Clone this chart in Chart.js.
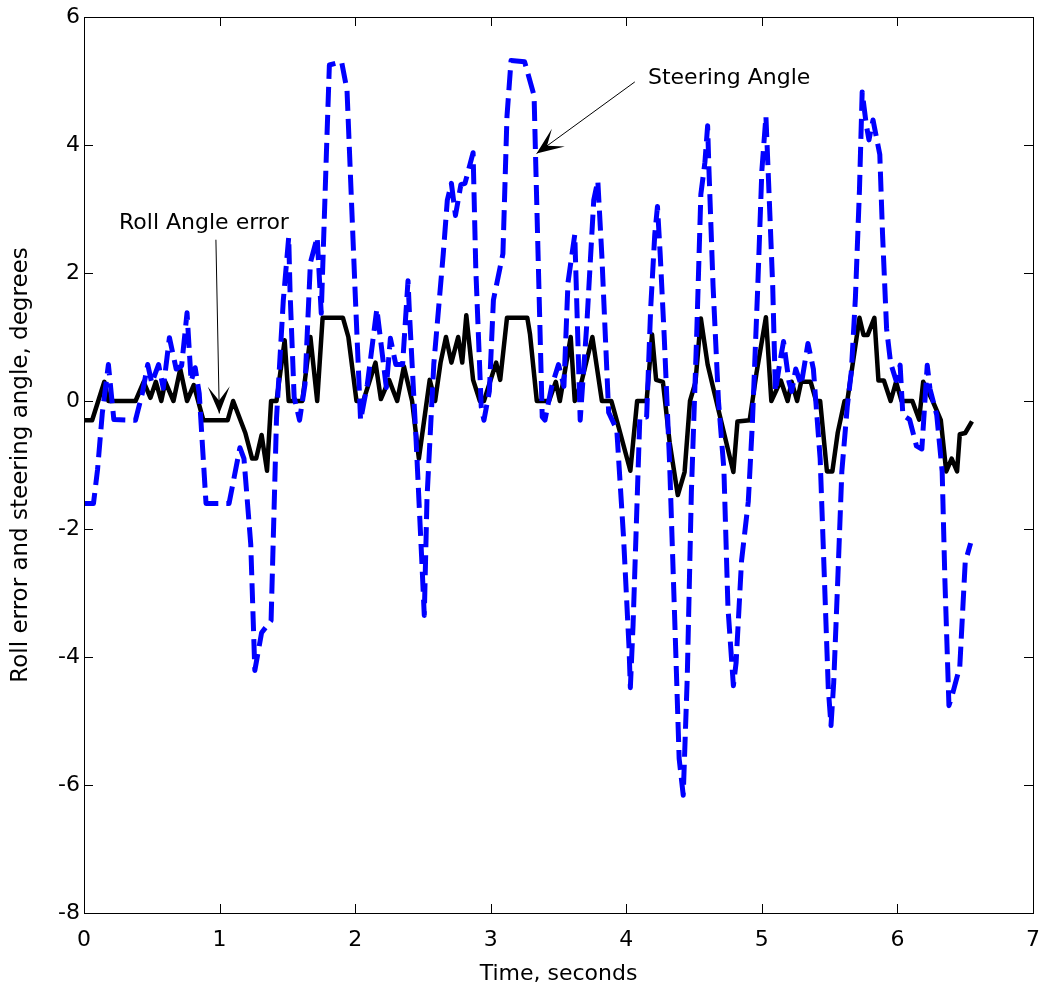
<!DOCTYPE html>
<html>
<head>
<meta charset="utf-8">
<title>Roll error and steering angle</title>
<script src="https://cdn.jsdelivr.net/npm/chart.js@4.4.1/dist/chart.umd.min.js"></script>
<style>
  html, body { margin: 0; padding: 0; background: #fff; }
  #chart { display: block; }
</style>
</head>
<body>
<canvas id="chart" width="1043" height="990"></canvas>
<script>
// ===== DATA =====
const rollTime = [
  0.00, 0.06, 0.15, 0.18, 0.38, 0.44, 0.49, 0.53, 0.57, 0.60, 0.66, 0.71, 0.76, 0.81, 0.88,
  1.06, 1.10, 1.19, 1.24, 1.27, 1.31, 1.35, 1.38, 1.42, 1.48, 1.51, 1.61, 1.67, 1.72, 1.76,
  1.91, 1.95, 2.01, 2.06, 2.15, 2.19, 2.25, 2.31, 2.36, 2.42, 2.47, 2.55, 2.59, 2.63, 2.67,
  2.71, 2.76, 2.79, 2.82, 2.87, 2.92, 2.95, 3.04, 3.07, 3.12, 3.27, 3.29, 3.34, 3.43, 3.48,
  3.51, 3.59, 3.62, 3.67, 3.75, 3.82, 3.89, 3.94, 4.03, 4.08, 4.15, 4.19, 4.22, 4.27, 4.32,
  4.38, 4.43, 4.47, 4.51, 4.55, 4.60, 4.68, 4.79, 4.82, 4.91, 4.96, 5.03, 5.07, 5.14, 5.19,
  5.22, 5.26, 5.29, 5.36, 5.40, 5.43, 5.48, 5.52, 5.56, 5.61, 5.63, 5.72, 5.75, 5.78, 5.83,
  5.86, 5.90, 5.95, 5.99, 6.03, 6.11, 6.16, 6.19, 6.26, 6.32, 6.36, 6.40, 6.44, 6.46, 6.50,
  6.55
];
const rollError = [
  -0.3, -0.3, 0.3, 0.0, 0.0, 0.3, 0.05, 0.3, 0.0, 0.3, 0.0, 0.5, 0.0, 0.25, -0.3,
  -0.3, 0.0, -0.5, -0.9, -0.9, -0.53, -1.09, 0.0, 0.0, 0.95, 0.0, 0.0, 1.0, 0.0, 1.3,
  1.3, 1.0, 0.0, 0.0, 0.6, 0.03, 0.33, 0.0, 0.54, 0.0, -0.9, 0.33, 0.0, 0.6, 1.0,
  0.6, 1.0, 0.6, 1.34, 0.33, 0.0, 0.0, 0.6, 0.33, 1.3, 1.3, 1.04, 0.0, 0.0, 0.3,
  0.0, 1.0, 0.0, 0.3, 1.0, 0.0, 0.0, -0.38, -1.09, 0.0, 0.0, 1.04, 0.33, 0.3, -0.65,
  -1.47, -1.11, 0.0, 0.29, 1.29, 0.57, -0.14, -1.11, -0.32, -0.3, 0.43, 1.31, 0.0, 0.32, 0.0,
  0.3, 0.0, 0.3, 0.3, 0.0, 0.0, -1.1, -1.1, -0.49, 0.0, 0.0, 1.3, 1.03, 1.03, 1.3,
  0.32, 0.32, 0.0, 0.3, 0.0, 0.0, -0.29, 0.3, 0.0, -0.3, -1.1, -0.9, -1.1, -0.52, -0.5,
  -0.32
];

const steerTime = [
  0.00, 0.07, 0.10, 0.135, 0.18, 0.22, 0.38, 0.43, 0.47, 0.50, 0.55, 0.585, 0.63, 0.68, 0.72,
  0.76, 0.79, 0.82, 0.85, 0.90, 1.07, 1.15, 1.18, 1.23, 1.26, 1.31, 1.38, 1.42, 1.47, 1.51,
  1.52, 1.55, 1.59, 1.63, 1.67, 1.72, 1.75, 1.79, 1.81, 1.90, 1.94, 2.00, 2.04, 2.09, 2.16,
  2.23, 2.26, 2.30, 2.35, 2.39, 2.40, 2.45, 2.49, 2.51, 2.53, 2.58, 2.65, 2.68, 2.71, 2.74,
  2.78, 2.81, 2.87, 2.89, 2.93, 2.95, 2.99, 3.02, 3.09, 3.12, 3.15, 3.25, 3.32, 3.33, 3.38,
  3.40, 3.45, 3.50, 3.54, 3.57, 3.62, 3.66, 3.71, 3.76, 3.79, 3.82, 3.87, 3.93, 3.98, 4.02,
  4.03, 4.05, 4.10, 4.15, 4.18, 4.21, 4.23, 4.25, 4.28, 4.32, 4.36, 4.39, 4.42, 4.45, 4.48,
  4.52, 4.55, 4.58, 4.60, 4.61, 4.64, 4.68, 4.72, 4.75, 4.79, 4.81, 4.85, 4.90, 4.93, 4.97,
  5.00, 5.03, 5.05, 5.08, 5.10, 5.13, 5.16, 5.20, 5.22, 5.25, 5.29, 5.34, 5.38, 5.43, 5.49,
  5.51, 5.53, 5.56, 5.59, 5.63, 5.66, 5.69, 5.72, 5.74, 5.77, 5.79, 5.82, 5.87, 5.89, 5.92,
  5.95, 5.99, 6.02, 6.04, 6.09, 6.14, 6.18, 6.22, 6.24, 6.29, 6.33, 6.35, 6.38, 6.41, 6.46,
  6.50, 6.54
];
const steerAngle = [
  -1.6, -1.6, -1.07, -0.19, 0.57, -0.29, -0.3, 0.12, 0.57, 0.28, 0.57, 0.2, 0.99, 0.5, 0.55,
  1.38, 0.31, 0.52, 0.12, -1.6, -1.6, -0.73, -0.9, -2.24, -4.21, -3.62, -3.43, -0.27, 1.57, 2.56,
  1.7, 0.06, -0.3, 0.26, 2.16, 2.56, 1.37, 4.0, 5.25, 5.3, 4.86, 1.7, -0.3, 0.26, 1.44,
  0.21, 0.98, 0.57, 0.57, 1.88, 1.4, -0.63, -2.42, -3.35, -1.52, 0.57, 2.3, 3.14, 3.4, 2.9,
  3.38, 3.4, 3.88, 2.06, -0.09, -0.3, 0.15, 1.58, 2.3, 4.45, 5.32, 5.3, 4.77, 3.89, -0.25,
  -0.3, 0.23, 0.57, 0.23, 1.85, 2.6, -0.3, 1.24, 3.14, 3.44, 2.26, -0.18, -0.45, -2.14, -3.84,
  -4.48, -3.5, -0.25, -0.25, 1.45, 2.6, 3.04, 2.3, 1.0, -1.0, -3.59, -5.59, -6.16, -4.3, -1.43,
  1.08, 3.23, 3.73, 4.3, 3.6, 1.8, 0.0, -1.07, -3.23, -4.45, -4.09, -2.5, -1.57, -0.35, 1.8,
  3.6, 4.45, 3.4, 1.8, 0.15, 0.57, 0.93, 0.3, 0.15, 0.5, 0.25, 0.9, 0.5, -0.9, -4.49,
  -5.07, -4.4, -2.79, -1.1, -0.09, 0.46, 1.61, 3.3, 4.83, 4.32, 4.08, 4.39, 3.85, 2.62, 1.13,
  0.59, 0.32, 0.56, -0.22, -0.29, -0.7, -0.75, 0.56, 0.19, -0.22, -1.1, -2.79, -4.76, -4.55, -4.15,
  -2.52, -2.22
];

const xTicks = [0, 1, 2, 3, 4, 5, 6, 7];
const yTicks = [-8, -6, -4, -2, 0, 2, 4, 6];

// ===== ANNOTATIONS (data coordinates) =====
const notes = [
  { text: 'Roll Angle error', align: 'center', tx: 0.885, ty: 2.68, from: [0.973, 2.52], to: [0.998, -0.195] },
  { text: 'Steering Angle', align: 'left', tx: 4.16, ty: 4.95, from: [4.063, 4.986], to: [3.338, 3.867] },
];

Chart.defaults.font.family = '"DejaVu Sans", sans-serif';
Chart.defaults.font.size = 22;
Chart.defaults.color = '#000';

const TICK = 9;

function drawArrowHead(ctx, x0, y0, x1, y1) {
  const ang = Math.atan2(y1 - y0, x1 - x0);
  const len = 27, half = 11, notch = 13;
  const cos = Math.cos(ang), sin = Math.sin(ang);
  const bx = x1 - len * cos, by = y1 - len * sin;
  ctx.beginPath();
  ctx.moveTo(x1, y1);
  ctx.lineTo(bx - half * sin, by + half * cos);
  ctx.lineTo(x1 - notch * cos, y1 - notch * sin);
  ctx.lineTo(bx + half * sin, by - half * cos);
  ctx.closePath();
  ctx.fill();
}

const framePlugin = {
  id: 'frame',
  afterDraw(chart) {
    const { ctx, chartArea: a, scales: { x, y } } = chart;
    ctx.save();
    ctx.strokeStyle = '#000';
    ctx.fillStyle = '#000';
    ctx.lineWidth = 1;
    ctx.strokeRect(Math.round(a.left) + 0.5, Math.round(a.top) + 0.5,
      Math.round(a.right - a.left), Math.round(a.bottom - a.top));

    // inward ticks on all four sides
    ctx.beginPath();
    x.ticks.forEach(t => {
      const px = Math.round(x.getPixelForValue(t.value)) + 0.5;
      ctx.moveTo(px, a.bottom); ctx.lineTo(px, a.bottom - TICK);
      ctx.moveTo(px, a.top); ctx.lineTo(px, a.top + TICK);
    });
    y.ticks.forEach(t => {
      const py = Math.round(y.getPixelForValue(t.value)) + 0.5;
      ctx.moveTo(a.left, py); ctx.lineTo(a.left + TICK, py);
      ctx.moveTo(a.right, py); ctx.lineTo(a.right - TICK, py);
    });
    ctx.stroke();

    // text arrows
    ctx.font = '22px "DejaVu Sans", sans-serif';
    ctx.textBaseline = 'alphabetic';
    notes.forEach(n => {
      ctx.textAlign = n.align;
      ctx.fillText(n.text, x.getPixelForValue(n.tx), y.getPixelForValue(n.ty));
      const x0 = x.getPixelForValue(n.from[0]), y0 = y.getPixelForValue(n.from[1]);
      const x1 = x.getPixelForValue(n.to[0]), y1 = y.getPixelForValue(n.to[1]);
      ctx.beginPath();
      ctx.moveTo(x0, y0);
      ctx.lineTo(x1, y1);
      ctx.stroke();
      drawArrowHead(ctx, x0, y0, x1, y1);
    });
    ctx.restore();
  }
};

new Chart(document.getElementById('chart'), {
  type: 'line',
  data: {
    datasets: [
      {
        label: 'Steering Angle',
        data: steerTime.map((t, i) => ({ x: t, y: steerAngle[i] })),
        borderColor: '#0000ff',
        borderWidth: 5,
        borderDash: [20, 8],
        borderJoinStyle: 'round',
        pointRadius: 0,
        tension: 0,
        fill: false,
      },
      {
        label: 'Roll Angle error',
        data: rollTime.map((t, i) => ({ x: t, y: rollError[i] })),
        borderColor: '#000000',
        borderWidth: 4.5,
        borderJoinStyle: 'round',
        pointRadius: 0,
        tension: 0,
        fill: false,
      },
    ]
  },
  options: {
    responsive: false,
    animation: false,
    events: [],
    layout: { padding: { top: 17, right: 10, left: 0, bottom: 0 } },
    plugins: { legend: { display: false }, tooltip: { enabled: false } },
    scales: {
      x: {
        type: 'linear',
        min: 0, max: 7,
        afterBuildTicks: s => { s.ticks = xTicks.map(v => ({ value: v })); },
        afterFit: s => { s.height = 77; s.paddingLeft = 0; s.paddingRight = 0; },
        ticks: { padding: 14, maxRotation: 0, autoSkip: false },
        grid: { display: false, drawTicks: false },
        border: { display: false },
        title: { display: true, text: 'Time, seconds', font: { size: 22 }, padding: { top: 0, bottom: 3 } },
      },
      y: {
        type: 'linear',
        min: -8, max: 6,
        afterBuildTicks: s => { s.ticks = yTicks.map(v => ({ value: v })); },
        afterFit: s => { s.width = 84; s.paddingTop = 0; s.paddingBottom = 0; },
        ticks: { padding: 4, autoSkip: false },
        grid: { display: false, drawTicks: false },
        border: { display: false },
        title: { display: true, text: 'Roll error and steering angle, degrees', font: { size: 23 }, padding: { top: 7, bottom: 0 } },
      }
    }
  },
  plugins: [framePlugin]
});
</script>
</body>
</html>
